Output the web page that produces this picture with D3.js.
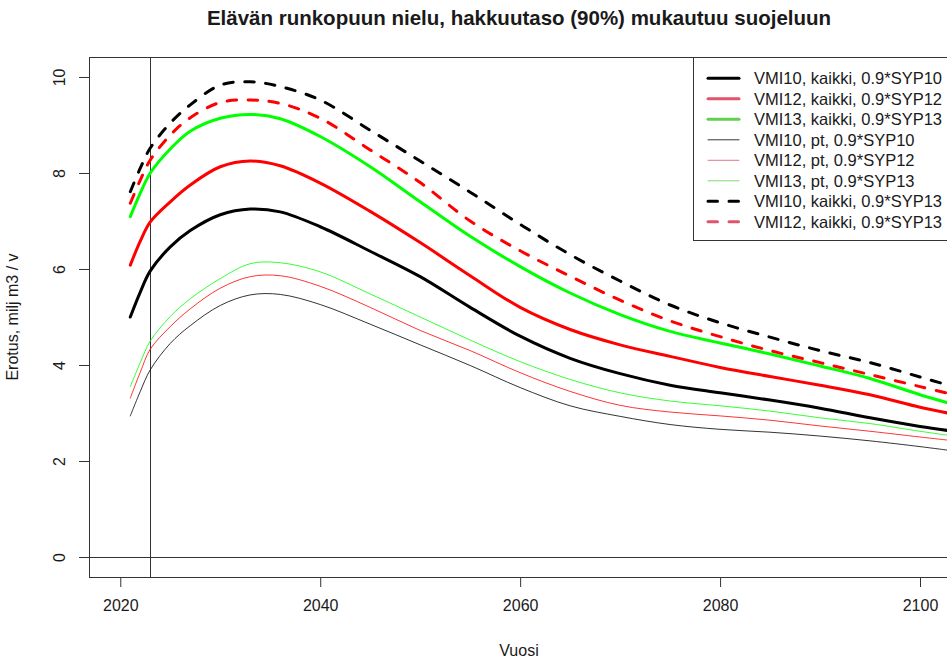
<!DOCTYPE html>
<html>
<head>
<meta charset="utf-8">
<script src="https://cdn.jsdelivr.net/npm/d3@7"></script>
<style>
    body { margin: 0; background: #fff; }
    text { font-family: "Liberation Sans", Arial, sans-serif; fill: #1a1a1a; }
</style>
</head>
<body>
<svg id="chart"></svg>
<script>
var years = [2021, 2022, 2023, 2025, 2027, 2030, 2033, 2036, 2040, 2045, 2050, 2055, 2060, 2065, 2070, 2075, 2080, 2085, 2090, 2095, 2100, 2103];

var vmi10Kaikki10 = [5.0, 5.52, 5.96, 6.46, 6.8, 7.13, 7.25, 7.19, 6.88, 6.37, 5.84, 5.2, 4.6, 4.14, 3.82, 3.58, 3.42, 3.27, 3.1, 2.9, 2.72, 2.63];
var vmi12Kaikki12 = [6.08, 6.58, 6.98, 7.4, 7.75, 8.13, 8.25, 8.15, 7.79, 7.2, 6.55, 5.86, 5.2, 4.74, 4.42, 4.18, 3.95, 3.76, 3.58, 3.38, 3.12, 2.99];
var vmi13Kaikki13 = [7.09, 7.58, 8.0, 8.5, 8.87, 9.14, 9.22, 9.13, 8.76, 8.13, 7.4, 6.68, 6.05, 5.5, 5.05, 4.7, 4.46, 4.23, 3.98, 3.72, 3.38, 3.2];
var vmi10Pt10 = [2.94, 3.45, 3.9, 4.45, 4.82, 5.24, 5.46, 5.47, 5.26, 4.85, 4.42, 3.99, 3.53, 3.15, 2.93, 2.76, 2.66, 2.6, 2.52, 2.42, 2.3, 2.22];
var vmi12Pt12 = [3.31, 3.85, 4.33, 4.8, 5.17, 5.6, 5.84, 5.86, 5.64, 5.2, 4.72, 4.3, 3.84, 3.45, 3.16, 3.02, 2.94, 2.85, 2.73, 2.62, 2.5, 2.43];
var vmi13Pt13 = [3.55, 4.05, 4.5, 5.01, 5.38, 5.8, 6.11, 6.13, 5.94, 5.48, 5.0, 4.52, 4.07, 3.7, 3.42, 3.25, 3.15, 3.04, 2.9, 2.78, 2.62, 2.53];
var vmi10Kaikki13 = [7.61, 8.1, 8.52, 9.04, 9.42, 9.83, 9.9, 9.8, 9.52, 8.89, 8.25, 7.6, 6.93, 6.3, 5.75, 5.25, 4.88, 4.58, 4.3, 4.05, 3.75, 3.57];
var vmi12Kaikki13 = [7.37, 7.85, 8.27, 8.79, 9.15, 9.47, 9.52, 9.45, 9.14, 8.48, 7.8, 7.0, 6.38, 5.85, 5.35, 4.92, 4.59, 4.3, 4.05, 3.8, 3.55, 3.4];

var legendLabels = [
    "VMI10, kaikki, 0.9*SYP10",
    "VMI12, kaikki, 0.9*SYP12",
    "VMI13, kaikki, 0.9*SYP13",
    "VMI10, pt, 0.9*SYP10",
    "VMI12, pt, 0.9*SYP12",
    "VMI13, pt, 0.9*SYP13",
    "VMI10, kaikki, 0.9*SYP13",
    "VMI12, kaikki, 0.9*SYP13"
];
var xTicks = [2020, 2040, 2060, 2080, 2100];
var yTicks = [0, 2, 4, 6, 8, 10];

// line styles (plot colour, legend colour, width, dash)
var styles = [
    { color: "#000000", legend: "#000000", width: 3, dash: null },
    { color: "#ff0000", legend: "#df536b", width: 3, dash: null },
    { color: "#00ff00", legend: "#61d04f", width: 3, dash: null },
    { color: "#000000", legend: "#000000", width: 0.8, dash: null },
    { color: "#ff0000", legend: "#df536b", width: 0.8, dash: null },
    { color: "#00ff00", legend: "#61d04f", width: 0.8, dash: null },
    { color: "#000000", legend: "#000000", width: 3, dash: "9.5,11.5" },
    { color: "#ff0000", legend: "#df536b", width: 3, dash: "9.5,11.5" }
];
var seriesValues = [vmi10Kaikki10, vmi12Kaikki12, vmi13Kaikki13, vmi10Pt10, vmi12Pt12, vmi13Pt13, vmi10Kaikki13, vmi12Kaikki13];

var width = 947, height = 661;
var svg = d3.select("#chart").attr("width", width).attr("height", height);

// plot region
var margin = { top: 57, right: -2, bottom: 84, left: 89 };
var plotLeft = margin.left, plotRight = width - margin.right;
var plotTop = margin.top, plotBottom = height - margin.bottom;

var xScale = d3.scaleLinear().domain([2016.87, 2102.9]).range([plotLeft, plotRight]);
var yScale = d3.scaleLinear().domain([-0.416, 10.416]).range([plotBottom, plotTop]);

svg.append("clipPath").attr("id", "plotClip")
    .append("rect")
    .attr("x", plotLeft).attr("y", plotTop)
    .attr("width", plotRight - plotLeft).attr("height", plotBottom - plotTop);

// reference lines: y = 0 and the year 2023
var y0 = Math.round(yScale(0)) + 0.5;
var x2023 = Math.round(xScale(2023)) + 0.5;
svg.append("line")
    .attr("x1", plotLeft).attr("x2", plotRight)
    .attr("y1", y0).attr("y2", y0)
    .attr("stroke", "#333").attr("stroke-width", 1);
svg.append("line")
    .attr("x1", x2023).attr("x2", x2023)
    .attr("y1", plotTop).attr("y2", plotBottom)
    .attr("stroke", "#333").attr("stroke-width", 1);

// the curves
var line = d3.line()
    .x(function (d) { return xScale(d.year); })
    .y(function (d) { return yScale(d.value); })
    .curve(d3.curveCatmullRom.alpha(0.5));

var gLines = svg.append("g").attr("clip-path", "url(#plotClip)");
seriesValues.forEach(function (values, i) {
    var points = years.map(function (y, j) { return { year: y, value: values[j] }; });
    gLines.append("path")
        .datum(points)
        .attr("d", line)
        .attr("fill", "none")
        .attr("stroke", styles[i].color)
        .attr("stroke-width", styles[i].width)
        .attr("stroke-dasharray", styles[i].dash)
        .attr("stroke-linecap", "round")
        .attr("stroke-linejoin", "round");
});

// axes
var axisBottom = d3.axisBottom(xScale).tickValues(xTicks).tickSize(10).tickPadding(13).tickFormat(d3.format("d"));
var gx = svg.append("g")
    .attr("transform", "translate(0," + plotBottom + ")")
    .call(axisBottom);
gx.select(".domain").remove();
gx.selectAll("line").attr("stroke", "#333");
gx.selectAll("text").attr("font-size", "16px").attr("fill", "#1a1a1a");

var axisLeft = d3.axisLeft(yScale).tickValues(yTicks).tickSize(10).tickFormat(d3.format("d"));
var gy = svg.append("g")
    .attr("transform", "translate(" + plotLeft + ",0)")
    .call(axisLeft);
gy.select(".domain").remove();
gy.selectAll("line").attr("stroke", "#333");
// y labels turned parallel to the axis, as R does
gy.selectAll(".tick text")
    .attr("font-size", "16px").attr("fill", "#1a1a1a")
    .attr("text-anchor", "middle")
    .attr("x", 0).attr("y", 0).attr("dy", "0.35em")
    .attr("transform", "translate(" + (59 - plotLeft) + ",0) rotate(-90)");

// box round the plot
svg.append("rect")
    .attr("x", plotLeft + 0.5).attr("y", plotTop + 0.5)
    .attr("width", plotRight - plotLeft).attr("height", plotBottom - plotTop)
    .attr("fill", "none").attr("stroke", "#333").attr("stroke-width", 1);

// legend
var legendTop = 57, legendLeft = 693, rowHeight = 20.5;
var gLegend = svg.append("g");
gLegend.append("rect")
    .attr("x", legendLeft + 0.5).attr("y", legendTop + 0.5)
    .attr("width", 300).attr("height", 183)
    .attr("fill", "#fff").attr("stroke", "#333").attr("stroke-width", 1);

var rows = gLegend.selectAll("g.row")
    .data(legendLabels)
    .enter()
    .append("g")
    .attr("class", "row")
    .attr("transform", function (d, i) { return "translate(0," + (legendTop + 21.3 + i * rowHeight) + ")"; });
rows.append("line")
    .attr("x1", 708).attr("x2", 739)
    .attr("y1", 0).attr("y2", 0)
    .attr("stroke", function (d, i) { return styles[i].legend; })
    .attr("stroke-width", function (d, i) { return styles[i].width; })
    .attr("stroke-dasharray", function (d, i) { return styles[i].dash; })
    .attr("stroke-linecap", "round");
rows.append("text")
    .text(function (d) { return d; })
    .attr("x", 754).attr("y", 0).attr("dy", "0.35em")
    .attr("font-size", "16.5px");

// titles
svg.append("text")
    .text("Elävän runkopuun nielu, hakkuutaso (90%) mukautuu suojeluun")
    .attr("x", 519).attr("y", 25)
    .attr("text-anchor", "middle")
    .attr("font-size", "20.5px").attr("font-weight", "bold");
svg.append("text")
    .text("Vuosi")
    .attr("x", 519).attr("y", 650).attr("dy", "0.35em")
    .attr("text-anchor", "middle")
    .attr("font-size", "16px");
svg.append("text")
    .text("Erotus, milj m3 / v")
    .attr("transform", "translate(12," + ((plotTop + plotBottom) / 2) + ") rotate(-90)")
    .attr("dy", "0.35em")
    .attr("text-anchor", "middle")
    .attr("font-size", "16px");
</script>
</body>
</html>
